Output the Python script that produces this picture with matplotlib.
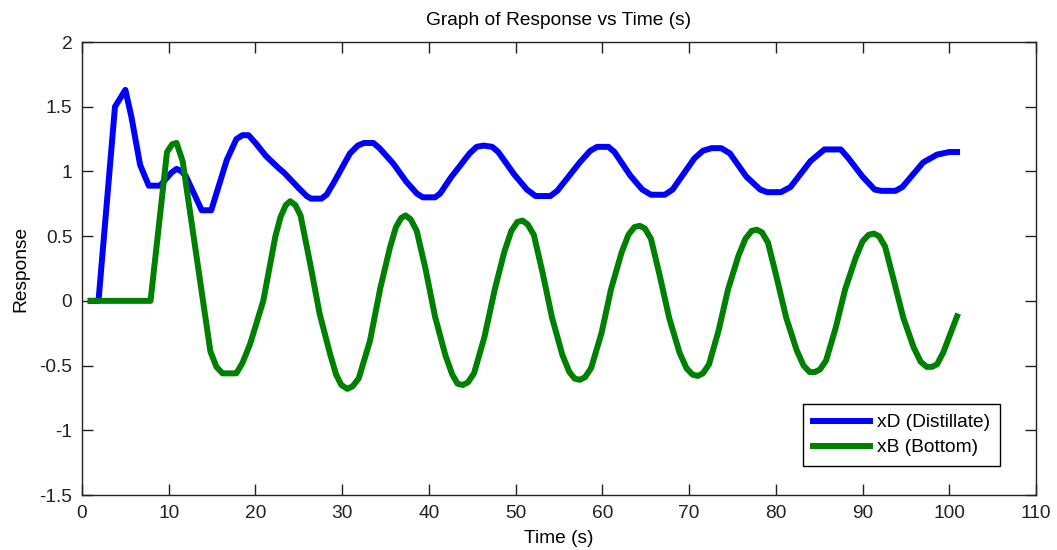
import matplotlib
matplotlib.use('Agg')
import matplotlib.pyplot as plt

# values
t_xd = [1.0, 1.9, 3.8, 5.0, 5.7, 6.7, 7.7, 9.0, 10.3, 10.9, 11.5, 12.0, 13.8, 14.9,
        16.7, 17.8, 18.5, 19.2, 20.0, 21.2, 22.6, 23.3, 25.0, 25.9, 26.4, 27.6, 28.2,
        29.0, 30.9, 31.8, 32.5, 33.6, 34.3, 35.9, 37.4, 38.6, 39.3, 40.7, 41.3, 42.5,
        44.7, 45.5, 46.3, 47.3, 48.0, 49.8, 51.3, 52.3, 54.0, 54.8, 57.4, 58.6, 59.4,
        60.7, 61.4, 63.2, 64.6, 65.6, 67.2, 68.1, 70.6, 71.6, 72.6, 73.7, 74.7, 76.6,
        78.2, 79.0, 80.6, 81.7, 84.0, 85.6, 87.5, 88.4, 90.0, 91.4, 92.2, 93.8, 94.6,
        97.0, 98.6, 100.0, 100.9]
xd = [0, 0, 1.50, 1.63, 1.42, 1.05, 0.89, 0.89, 0.99, 1.02, 1.00, 0.96, 0.70, 0.70,
      1.09, 1.25, 1.28, 1.28, 1.22, 1.12, 1.03, 0.99, 0.87, 0.81, 0.79, 0.79, 0.82,
      0.91, 1.14, 1.20, 1.22, 1.22, 1.18, 1.06, 0.92, 0.83, 0.80, 0.80, 0.83, 0.95,
      1.14, 1.19, 1.20, 1.19, 1.15, 0.98, 0.86, 0.81, 0.81, 0.85, 1.07, 1.16, 1.19,
      1.19, 1.15, 0.97, 0.86, 0.82, 0.82, 0.86, 1.10, 1.16, 1.18, 1.18, 1.14, 0.96,
      0.86, 0.84, 0.84, 0.88, 1.08, 1.17, 1.17, 1.10, 0.96, 0.86, 0.85, 0.85, 0.88,
      1.07, 1.13, 1.15, 1.15]

t_xb = [1.0, 7.9, 9.8, 10.4, 10.9, 11.6, 14.8, 15.5, 16.2, 17.8, 18.5, 19.4, 20.9,
        22.3, 22.9, 23.5, 24.0, 24.6, 25.2, 26.3, 27.4, 28.6, 29.3, 29.9, 30.6, 31.2,
        31.9, 33.2, 34.4, 35.5, 36.2, 36.8, 37.3, 37.9, 38.6, 39.6, 40.7, 41.9, 42.7,
        43.3, 43.9, 44.5, 45.2, 46.4, 47.6, 48.7, 49.5, 50.2, 50.8, 51.4, 52.1, 53.1,
        54.2, 55.4, 56.2, 56.8, 57.4, 58.0, 58.7, 59.9, 61.0, 62.2, 63.0, 63.7, 64.3,
        64.9, 65.6, 66.6, 67.7, 68.9, 69.7, 70.4, 71.0, 71.6, 72.3, 73.4, 74.5, 75.7,
        76.5, 77.2, 77.8, 78.4, 79.1, 80.1, 81.2, 82.4, 83.2, 83.9, 84.5, 85.1, 85.8,
        86.9, 88.0, 89.2, 90.0, 90.7, 91.3, 91.9, 92.6, 93.6, 94.7, 95.9, 96.7, 97.4,
        98.0, 98.6, 99.3, 100.9]
xb = [0, 0, 1.15, 1.21, 1.22, 1.08, -0.39, -0.51, -0.56, -0.56, -0.48, -0.33, 0.0,
      0.50, 0.65, 0.74, 0.77, 0.74, 0.66, 0.29, -0.10, -0.41, -0.57, -0.65, -0.68, -0.66,
      -0.60, -0.31, 0.10, 0.41, 0.57, 0.64, 0.66, 0.63, 0.54, 0.25, -0.12, -0.42, -0.57,
      -0.64, -0.65, -0.63, -0.56, -0.28, 0.09, 0.38, 0.54, 0.61, 0.62, 0.59, 0.51, 0.22,
      -0.13, -0.42, -0.55, -0.60, -0.61, -0.59, -0.52, -0.25, 0.09, 0.37, 0.51, 0.57, 0.58,
      0.56, 0.48, 0.20, -0.13, -0.40, -0.52, -0.57, -0.58, -0.56, -0.49, -0.23, 0.09, 0.35,
      0.48, 0.54, 0.55, 0.53, 0.45, 0.18, -0.13, -0.38, -0.50, -0.55, -0.55, -0.53, -0.46,
      -0.21, 0.09, 0.33, 0.46, 0.51, 0.52, 0.50, 0.42, 0.16, -0.13, -0.36, -0.47, -0.51,
      -0.51, -0.49, -0.40, -0.12]

labels = ['xD (Distillate)', 'xB (Bottom)']

plt.rcParams['font.family'] = ['Liberation Sans', 'DejaVu Sans']
fs = 13.8

fig = plt.figure(figsize=(10.57, 5.50), dpi=100)
ax = fig.add_axes([0.0776, 0.10, 0.9025, 0.8236])

ax.plot(t_xd, xd, color='#0000ff', linewidth=4.3, label=labels[0])
ax.plot(t_xb, xb, color='#008000', linewidth=4.3, label=labels[1])

ax.set_xlim(0, 110)
ax.set_ylim(-1.5, 2)
ax.set_xticks(range(0, 111, 10))
ax.set_yticks([-1.5, -1, -0.5, 0, 0.5, 1, 1.5, 2])
ax.set_yticklabels(['-1.5', '-1', '-0.5', '0', '0.5', '1', '1.5', '2'])
ax.tick_params(direction='in', length=8, width=1, top=True, right=True, pad=7,
               labelsize=fs, colors='#222222')
for s in ax.spines.values():
    s.set_color('#222222')
    s.set_linewidth(1)

ax.set_title('Graph of Response vs Time (s)', fontsize=fs, pad=12)
ax.set_xlabel('Time (s)', fontsize=fs, labelpad=6)
ax.set_ylabel('Response', fontsize=fs, labelpad=7)

leg = ax.legend(loc='lower right', bbox_to_anchor=(0.962, 0.064), fancybox=False,
                edgecolor='black', framealpha=1, fontsize=fs, handlelength=3.0,
                handletextpad=0.35, borderpad=0.5, labelspacing=0.4,
                borderaxespad=0)
leg.get_frame().set_linewidth(1)

fig.savefig('out.png', dpi=100)
